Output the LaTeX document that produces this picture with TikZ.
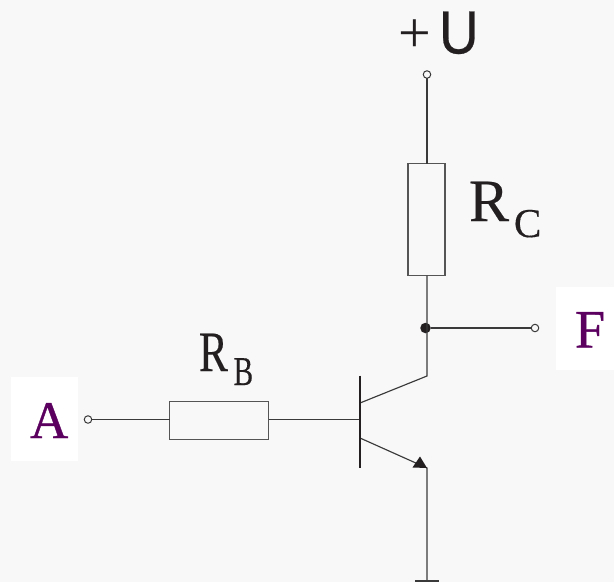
\documentclass[tikz,border=0pt]{standalone}
\usepackage{fontspec}
\setmainfont{Liberation Serif}
\newfontfamily\sansf{Liberation Sans}
\newfontfamily\heavy[FakeBold=0.7]{Liberation Serif}
\newfontfamily\semi[FakeBold=0.3]{Liberation Serif}
\newfontfamily\sansheavy[FakeBold=0.5]{Liberation Sans}
\definecolor{bg}{HTML}{F8F8F8}
\definecolor{ink}{HTML}{231F20}
\definecolor{wire}{HTML}{3A3A3A}
\definecolor{boxline}{HTML}{555555}
\definecolor{lab}{HTML}{5C0060}
\begin{document}
\begin{tikzpicture}[x=1pt,y=-1pt,
  wireline/.style={draw=wire,line width=1.15pt},
  resistor/.style={draw=boxline,line width=1.3pt,inner sep=0pt,outer sep=0pt},
  terminal/.style={circle,draw=wire,line width=1pt,fill=none,inner sep=0pt,outer sep=0pt,minimum size=7.5pt},
  junction/.style={circle,fill=ink,inner sep=0pt,outer sep=0pt,minimum size=10.5pt},
  txt/.style={anchor=base west,inner sep=0pt,outer sep=0pt,text=ink},
  whitebox/.style={fill=white,inner sep=0pt,outer sep=0pt}]
\useasboundingbox (0,0) rectangle (614,582);
\fill[bg] (0,0) rectangle (614,582);
% white label patches
\node[whitebox,minimum width=67pt,minimum height=84pt] (pa) at (44.5,419) {};
\node[whitebox,minimum width=58pt,minimum height=83pt] (pf) at (585,328.5) {};
% components
\node[terminal] (tu) at (427,74.5) {};
\node[terminal] (ta) at (88,419.5) {};
\node[terminal] (tf) at (535,328) {};
\node[resistor,minimum width=37pt,minimum height=112pt] (rc) at (426.5,219.5) {};
\node[resistor,minimum width=99pt,minimum height=38pt] (rb) at (219,420.5) {};
\node[junction] (j) at (425.5,328) {};
\coordinate (bartop) at (360,375.5);
\coordinate (barbot) at (360,468);
\coordinate (base) at (360,419.5);
\coordinate (cin) at (360,403);
\coordinate (cout) at (427,376);
\coordinate (ein) at (360,438);
\coordinate (eout) at (427,468);
\coordinate (gnd) at (427,581);
\coordinate (gl) at (415,581);
\coordinate (gr) at (439,581);
% wires
\draw[wireline] (tu.south) -- (tu.south |- rc.north);
\draw[wireline] (rc.south -| cout) -- (cout) -- (cin);
\draw[wireline] (j) -- (tf.west);
\draw[wireline] (ta.east) -- (ta.east -| rb.west);
\draw[wireline] (base -| rb.east) -- (base);
\draw[wireline] (ein) -- (eout) -- (gnd);
\draw[wireline] (gl) -- (gr);
\draw[draw=ink,line width=2.2pt] (bartop) -- (barbot);
\fill[ink] (427,468) -- (412.5,467.5) -- (420,456.5) -- cycle;
% labels
\node[txt,text=lab,font=\heavy\fontsize{53}{53}\selectfont] (la) at (30,438) {A};
\node[txt,text=lab,font=\heavy\fontsize{54}{54}\selectfont] (lf) at (575,347.5) {F};
\node[txt,font=\semi\fontsize{57}{57}\selectfont] (lr1) at (199,371) {\scalebox{.76}[1]{R}};
\node[txt,font=\semi\fontsize{41}{41}\selectfont] (lb) at (233.5,385) {\scalebox{.72}[1]{B}};
\node[txt,font=\semi\fontsize{60}{60}\selectfont] (lr2) at (469,221) {R};
\node[txt,font=\semi\fontsize{41}{41}\selectfont] (lc) at (514,237) {C};
\node[txt,font=\fontsize{58}{58}\selectfont] (lp) at (398,52) {+};
\node[txt,font=\sansheavy\fontsize{61}{61}\selectfont] (lu) at (439,53.5) {\scalebox{.9}[1]{U}};
\end{tikzpicture}
\end{document}
